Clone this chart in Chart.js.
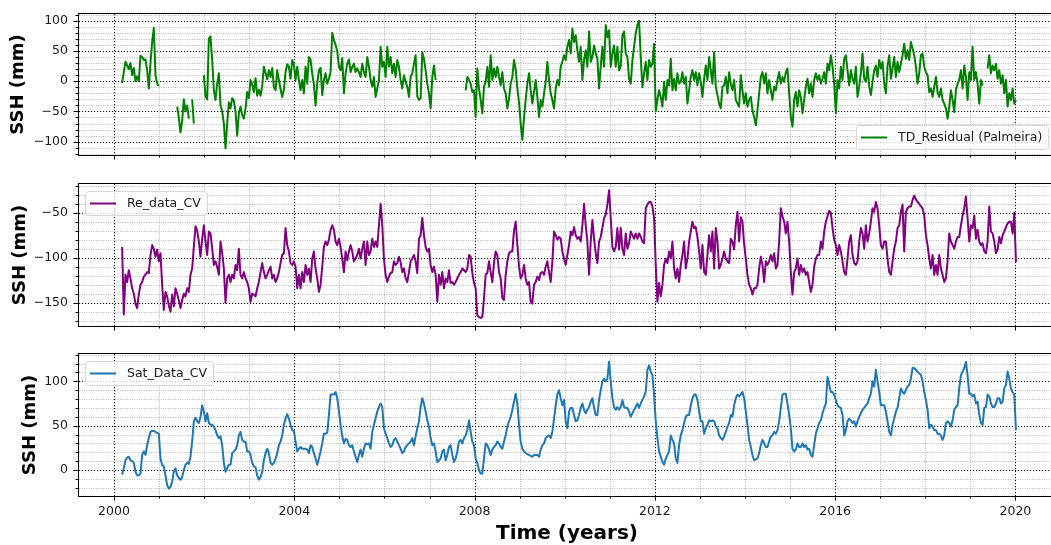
<!DOCTYPE html>
<html>
<head>
<meta charset="utf-8">
<script src="https://cdn.jsdelivr.net/npm/chart.js@4.4.0/dist/chart.umd.min.js"></script>
<style>
  html, body { margin: 0; padding: 0; background: #fff; overflow: hidden; }
  #wrap { position: relative; width: 1051px; height: 545px; overflow: hidden; background: #fff; }
  #wrap canvas { position: absolute; left: 0; }
</style>
</head>
<body>
<div id="wrap">
  <canvas id="panelTD" width="1052" height="185" style="top:-10px"></canvas>
  <canvas id="panelRe" width="1052" height="190" style="top:160px"></canvas>
  <canvas id="panelSat" width="1052" height="215" style="top:330px"></canvas>
</div>
<script>
// Regular sampling of the three SSH records (decimal years)
const sampleStart = 2000.18;
const sampleStep = 0.037;

// Tide-gauge residual, Palmeira (mm); null = no data
const tdResidual = [
  -3, 15, 32, 26, 20, 30, 10, 22, 0, 8,
  0, 42, 40, 35, 36, 18, -12, 30, 65, 88,
  10, -4, -8, null, null, null, null, null, null, null,
  null, null, null, -42, -60, -85, -65, -30, -50, -40,
  -62, null, -30, -70, null, null, null, null, null, 10,
  -25, -30, 70, 74, 35, -15, -31, -4, 13, -40,
  -50, -70, -111, -70, -35, -45, -28, -32, -50, -90,
  -53, -42, -56, -62, -45, -18, -28, 2, -5, -18,
  5, -24, -14, -24, -8, 24, 14, 3, 18, 7,
  22, -10, -15, 18, 2, -13, -26, -14, 15, 28,
  24, 4, 35, 28, 2, 24, 2, -15, 2, -20,
  24, -4, 40, 36, 12, -5, -40, -4, 18, 22,
  -23, 2, 13, -4, 4, 15, 80, 68, 60, 50,
  24, 18, 38, -20, 13, 29, 36, 15, 24, 29,
  15, 21, 15, 7, 29, 15, 7, 40, 24, 2,
  -9, 7, -26, -12, 2, 57, 24, 32, 7, 57,
  24, 40, 13, 29, 7, 35, 24, 2, -12, 10,
  -1, -9, -26, 7, 13, 29, 43, -25, -31, -28,
  48, 37, 18, -4, -20, -45, 7, 26, 2, null,
  null, null, null, null, null, null, null, null, null, null,
  null, null, null, null, null, null, -15, 7, 2, -4,
  -18, -15, -59, 21, -12, -31, -53, -9, -1, 24,
  -9, 43, 2, 21, 7, 24, 7, -7, 15, -12,
  -20, -45, -29, -4, 7, 35, 20, -12, -35, -70,
  -97, -60, -31, -4, 13, -15, -37, -18, 2, -26,
  -59, -31, -42, -20, -1, 32, 2, -20, -31, -45,
  -12, 2, -7, 24, 32, 43, 35, 57, 68, 46,
  87, 65, 76, 51, 32, 57, 2, 35, 51, 24,
  82, 32, 40, 59, 46, 37, -12, 24, 57, 24,
  93, 73, 84, 24, 46, 59, 24, 57, 18, 24,
  76, 82, 46, 40, 4, -4, 35, 57, 79, 93,
  100, 40, -10, 13, 32, 2, 35, 24, 29, 62,
  -50, -31, -15, -26, -42, -1, -31, 2, -7, 37,
  -15, 4, -15, 13, -4, -1, 15, -4, 7, -37,
  -15, 7, 18, 2, 15, -7, 13, -1, -26, 4,
  26, 2, 40, 18, -4, 48, -9, -23, -37, -45,
  -9, -7, 7, -20, 15, -4, -15, 2, -31, -37,
  -42, 10, -15, -37, -20, -42, -31, -26, -48, -59,
  -73, -48, -20, 7, 15, -4, 13, -20, 2, -15,
  -31, -9, -15, 2, 15, -4, 7, -1, 15, 21,
  -20, -59, -75, -31, -18, -42, -15, -26, -53, -31,
  -9, 4, -20, -4, -26, 2, 13, 2, 10, -4,
  4, 15, -4, 29, 18, 43, 24, -4, -53, 2,
  -12, 24, 2, 37, 43, 18, -7, 18, 4, -4,
  24, -26, -9, 13, 46, 4, -1, 24, -9, -23,
  -1, 18, 26, 7, 35, 21, 32, -4, -20, 26,
  43, 4, 21, 40, 7, 32, 15, 29, 43, 62,
  37, 51, 35, 65, 54, 43, 24, -4, 13, 43,
  46, 24, 15, 10, -18, -12, -26, -9, 7, -18,
  -26, -12, -31, -37, -45, -62, -42, -15, -31, -51,
  -15, -4, 2, 18, -12, 26, 7, -31, 15, 2,
  57, 2, 15, -4, -37, 2, -7, null, null, 21,
  43, 13, 26, 18, 29, 4, 18, -4, 10, -20,
  2, -42, -20, -31, -12, -37, -31
];

// Reanalysis SSH, Cape Verde (mm)
const reDataCV = [
  -88, -163, -119, -127, -114, -123, -134, -140, -151, -156,
  -141, -130, -127, -121, -119, -116, -117, -97, -86, -90,
  -99, -91, -104, -95, -130, -158, -138, -143, -153, -160,
  -141, -154, -134, -140, -147, -156, -147, -140, -143, -134,
  -138, -119, -112, -88, -65, -70, -82, -99, -79, -64,
  -82, -97, -71, -73, -90, -108, -104, -110, -119, -82,
  -95, -112, -150, -123, -119, -127, -119, -123, -108, -114,
  -90, -119, -123, -116, -123, -127, -134, -149, -140, -141,
  -143, -134, -127, -116, -106, -116, -123, -119, -114, -110,
  -123, -119, -127, -123, -116, -106, -97, -95, -67, -86,
  -93, -106, -108, -104, -110, -134, -119, -134, -116, -127,
  -108, -119, -112, -127, -101, -93, -112, -123, -138, -130,
  -110, -88, -82, -86, -80, -69, -64, -69, -82, -86,
  -79, -88, -101, -116, -93, -103, -93, -86, -93, -104,
  -101, -97, -90, -101, -90, -82, -108, -82, -97, -93,
  -79, -88, -82, -88, -64, -40, -64, -101, -119, -127,
  -121, -117, -116, -104, -108, -106, -99, -105, -116, -112,
  -123, -127, -116, -104, -101, -97, -104, -117, -79, -75,
  -56, -75, -88, -93, -90, -108, -116, -110, -119, -149,
  -119, -130, -116, -134, -123, -127, -114, -128, -127, -130,
  -127, -123, -119, -116, -112, -114, -116, -112, -97, -99,
  -117, -128, -134, -164, -166, -167, -166, -145, -119, -117,
  -104, -116, -127, -106, -93, -97, -116, -123, -145, -147,
  -119, -104, -95, -93, -93, -70, -60, -85, -110, -123,
  -119, -108, -123, -130, -127, -149, -151, -130, -127, -121,
  -125, -117, -116, -119, -110, -104, -116, -127, -104, -71,
  -75, -80, -77, -79, -93, -101, -108, -97, -86, -71,
  -75, -66, -75, -79, -77, -82, -64, -40, -64, -82,
  -119, -82, -58, -79, -95, -106, -82, -77, -67, -56,
  -52, -41, -25, -55, -88, -93, -88, -67, -91, -67,
  -90, -97, -73, -90, -84, -71, -75, -79, -73, -79,
  -73, -77, -82, -84, -45, -41, -38, -38, -43, -56,
  -108, -149, -128, -143, -130, -108, -101, -106, -93, -101,
  -82, -112, -123, -112, -127, -108, -97, -82, -112, -101,
  -82, -71, -60, -67, -66, -77, -93, -112, -86, -116,
  -119, -97, -75, -93, -71, -112, -67, -82, -112, -108,
  -101, -93, -101, -104, -106, -79, -82, -91, -64, -49,
  -82, -55, -60, -85, -101, -119, -130, -134, -141, -134,
  -134, -130, -112, -99, -108, -127, -104, -108, -104, -97,
  -104, -95, -112, -108, -82, -45, -54, -60, -73, -60,
  -82, -116, -141, -116, -112, -101, -119, -108, -116, -112,
  -119, -116, -127, -138, -130, -110, -101, -97, -97, -82,
  -90, -71, -60, -54, -48, -50, -67, -80, -86, -97,
  -86, -93, -104, -116, -119, -101, -82, -75, -97, -106,
  -108, -104, -82, -67, -73, -90, -64, -82, -73, -60,
  -45, -49, -38, -45, -64, -86, -90, -82, -82, -101,
  -116, -119, -104, -90, -82, -67, -64, -49, -41, -93,
  -49, -45, -43, -43, -36, -31, -35, -38, -40, -43,
  -45, -53, -75, -86, -101, -112, -97, -119, -108, -119,
  -97, -112, -119, -127, -123, -104, -73, -82, -86, -90,
  -82, -77, -77, -64, -53, -45, -32, -56, -82, -64,
  -67, -53, -79, -69, -82, -86, -84, -93, -95, -82,
  -43, -71, -73, -82, -95, -91, -77, -84, -75, -71,
  -66, -62, -60, -60, -73, -50, -105
];

// Satellite altimetry SSH, Cape Verde (mm)
const satDataCV = [
  -5, 2, 11, 14, 15, 11, 10, 8, -2, -6,
  -6, -4, 17, 21, 17, 28, 36, 43, 44, 44,
  43, 42, 41, 13, 6, 4, -6, -17, -21, -19,
  -13, -2, 2, -6, -9, -11, -8, 0, 6, 8,
  7, 15, 32, 55, 59, 55, 53, 60, 73, 66,
  55, 64, 53, 51, 51, 49, 45, 39, 36, 38,
  28, 8, -2, 2, 6, 6, 19, 21, 23, 28,
  39, 43, 34, 32, 32, 21, 21, 17, 8, 4,
  3, -6, -11, -8, -2, 11, 19, 24, 19, 8,
  6, 8, 13, 19, 28, 32, 39, 51, 58, 63,
  58, 51, 45, 44, 32, 21, 24, 26, 24, 24,
  24, 23, 19, 28, 26, 19, 13, 6, 13, 21,
  30, 41, 41, 42, 62, 85, 85, 85, 88, 81,
  66, 51, 38, 30, 35, 34, 28, 26, 28, 21,
  15, 9, 17, 23, 15, 24, 30, 29, 30, 24,
  43, 51, 58, 66, 71, 75, 71, 47, 41, 36,
  30, 26, 28, 34, 36, 32, 28, 24, 19, 21,
  26, 28, 30, 32, 36, 28, 38, 47, 55, 71,
  81, 75, 66, 56, 49, 36, 28, 30, 21, 9,
  11, 13, 21, 23, 11, 17, 26, 28, 17, 9,
  13, 21, 32, 34, 30, 36, 39, 45, 56, 43,
  32, 28, 13, 8, 0, -4, -4, 13, 30, 28,
  23, 17, 23, 26, 28, 32, 30, 26, 24, 32,
  39, 49, 55, 60, 68, 77, 86, 75, 51, 32,
  24, 21, 19, 18, 17, 16, 15, 17, 17, 17,
  15, 23, 28, 30, 36, 38, 39, 36, 43, 58,
  73, 85, 90, 81, 73, 79, 55, 47, 66, 70,
  70, 62, 55, 56, 62, 70, 75, 68, 64, 68,
  71, 77, 81, 70, 62, 62, 79, 90, 100, 103,
  100, 103, 122, 100, 81, 71, 68, 71, 68, 71,
  79, 71, 70, 70, 66, 60, 64, 68, 71, 75,
  70, 75, 79, 83, 88, 113, 118, 111, 107, 85,
  55, 36, 21, 15, 9, 6, 13, 17, 21, 39,
  34, 30, 13, 8, 28, 39, 45, 53, 60, 62,
  62, 73, 81, 85, 85, 79, 66, 55, 55, 41,
  47, 51, 56, 55, 56, 55, 49, 47, 39, 36,
  34, 38, 43, 49, 53, 62, 60, 73, 81, 85,
  83, 85, 88, 81, 66, 51, 34, 26, 17, 11,
  12, 13, 19, 28, 34, 30, 26, 26, 32, 38,
  39, 43, 41, 45, 55, 70, 85, 86, 86, 75,
  62, 47, 24, 21, 23, 30, 26, 26, 30, 26,
  28, 23, 24, 17, 15, 28, 41, 47, 53, 56,
  64, 70, 75, 105, 96, 88, 88, 85, 79, 73,
  71, 70, 62, 39, 45, 55, 58, 56, 53, 55,
  49, 55, 60, 64, 68, 70, 73, 75, 81, 86,
  100, 94, 113, 100, 88, 73, 73, 73, 66, 55,
  43, 39, 51, 58, 66, 70, 81, 92, 88, 86,
  90, 94, 96, 103, 115, 115, 113, 111, 109, 107,
  100, 88, 79, 68, 47, 51, 49, 45, 45, 41,
  41, 39, 34, 39, 53, 55, 53, 49, 56, 68,
  71, 73, 92, 107, 111, 115, 122, 107, 86, 86,
  83, 85, 75, 77, 62, 53, 51, 70, 71, 85,
  83, 75, 71, 71, 75, 81, 81, 75, 77, 92,
  96, 111, 103, 92, 88, 85, 45
];

// Axis ticks and labels
const yearTicks = [2000, 2004, 2008, 2012, 2016, 2020];
const ticksTD = [-100, -50, 0, 50, 100];
const ticksRe = [-150, -100, -50];
const ticksSat = [0, 50, 100];
const seriesNames = ['TD_Residual (Palmeira)', 'Re_data_CV', 'Sat_Data_CV'];
const yTitle = 'SSH (mm)';
const xTitle = 'Time (years)';

const X_MIN = 1999.223, X_MAX = 2020.812;
const TICK_FONT = { family: 'DejaVu Sans', size: 12.5 };
const TEXT_COLOR = '#1a1a1a';

function toPoints(values) {
  return values.map((v, i) => ({ x: sampleStart + i * sampleStep, y: v }));
}

function fmtNum(v) {
  return v < 0 ? '\u2212' + Math.abs(v) : String(v);
}

// Draws matplotlib-like grid, spines, tick marks, legend box and axis titles
const panelDecor = {
  id: 'panelDecor',
  beforeDatasetsDraw(chart, args, o) {
    const { ctx } = chart;
    const a = {
      left: Math.round(chart.chartArea.left), right: Math.round(chart.chartArea.right),
      top: Math.round(chart.chartArea.top), bottom: Math.round(chart.chartArea.bottom)
    };
    const x = chart.scales.x, y = chart.scales.y;
    const px = v => Math.round(x.getPixelForValue(v)) + 0.5;
    const py = v => Math.round(y.getPixelForValue(v)) + 0.5;
    ctx.save();
    ctx.beginPath();
    ctx.rect(a.left, a.top, a.right - a.left, a.bottom - a.top);
    ctx.clip();
    // minor grid
    ctx.strokeStyle = 'rgba(140,140,140,0.6)';
    ctx.lineWidth = 0.9;
    ctx.setLineDash([1.2, 1.2]);
    for (let yr = Math.ceil(x.min); yr <= x.max; yr++) {
      if (yearTicks.includes(yr)) continue;
      ctx.beginPath(); ctx.moveTo(px(yr), a.top); ctx.lineTo(px(yr), a.bottom); ctx.stroke();
    }
    for (let v = Math.ceil(y.min / 10) * 10; v <= y.max; v += 10) {
      if (o.yTicks.includes(v)) continue;
      ctx.beginPath(); ctx.moveTo(a.left, py(v)); ctx.lineTo(a.right, py(v)); ctx.stroke();
    }
    // major grid
    ctx.strokeStyle = '#111';
    ctx.lineWidth = 1;
    ctx.setLineDash([1.2, 1.8]);
    yearTicks.forEach(yr => {
      ctx.beginPath(); ctx.moveTo(px(yr), a.top); ctx.lineTo(px(yr), a.bottom); ctx.stroke();
    });
    o.yTicks.forEach(v => {
      ctx.beginPath(); ctx.moveTo(a.left, py(v)); ctx.lineTo(a.right, py(v)); ctx.stroke();
    });
    ctx.restore();
  },
  afterDatasetsDraw(chart, args, o) {
    const { ctx } = chart;
    const a = {
      left: Math.round(chart.chartArea.left), right: Math.round(chart.chartArea.right),
      top: Math.round(chart.chartArea.top), bottom: Math.round(chart.chartArea.bottom)
    };
    const x = chart.scales.x, y = chart.scales.y;
    const px = v => Math.round(x.getPixelForValue(v)) + 0.5;
    const py = v => Math.round(y.getPixelForValue(v)) + 0.5;
    ctx.save();

    // legend
    ctx.font = '12.5px "DejaVu Sans"';
    const tw = ctx.measureText(o.label).width;
    const bw = Math.round(42 + tw + 6), bh = 24;
    let bx, by;
    if (o.legendCorner === 'lowerRight') { bx = a.right - 4 - bw; by = a.bottom - 6 - bh; }
    else { bx = a.left + 6; by = a.top + 7; }
    ctx.beginPath();
    ctx.roundRect(bx + 0.5, by + 0.5, bw, bh, 3);
    ctx.fillStyle = 'rgba(255,255,255,0.8)';
    ctx.fill();
    ctx.strokeStyle = '#d6d6d6';
    ctx.lineWidth = 1;
    ctx.stroke();
    ctx.beginPath();
    ctx.moveTo(bx + 5, by + bh / 2 + 0.5);
    ctx.lineTo(bx + 31, by + bh / 2 + 0.5);
    ctx.strokeStyle = o.color;
    ctx.lineWidth = 2;
    ctx.stroke();
    ctx.fillStyle = TEXT_COLOR;
    ctx.textAlign = 'left';
    ctx.textBaseline = 'middle';
    ctx.fillText(o.label, bx + 42, by + bh / 2 + 1);

    // spines
    ctx.strokeStyle = '#000';
    ctx.lineWidth = 1;
    ctx.strokeRect(a.left - 0.5, a.top - 0.5, a.right - a.left + 1, a.bottom - a.top + 1);

    // tick marks (outward)
    ctx.beginPath();
    for (let yr = Math.ceil(x.min); yr <= x.max; yr++) {
      const len = yearTicks.includes(yr) ? 4.5 : 2.5;
      ctx.moveTo(px(yr), a.bottom); ctx.lineTo(px(yr), a.bottom + len);
    }
    for (let v = Math.ceil(y.min / 10) * 10; v <= y.max; v += 10) {
      const len = o.yTicks.includes(v) ? 4.5 : 2.5;
      ctx.moveTo(a.left - 1, py(v)); ctx.lineTo(a.left - 1 - len, py(v));
    }
    ctx.stroke();

    // y title
    ctx.save();
    ctx.translate(o.yTitleX, (a.top + a.bottom) / 2);
    ctx.rotate(-Math.PI / 2);
    ctx.font = 'bold 18px "DejaVu Sans"';
    ctx.fillStyle = '#000';
    ctx.textAlign = 'center';
    ctx.textBaseline = 'alphabetic';
    ctx.fillText(yTitle, 0, 0);
    ctx.restore();

    // x title
    if (o.xTitleY) {
      ctx.font = 'bold 20px "DejaVu Sans"';
      ctx.fillStyle = '#000';
      ctx.textAlign = 'center';
      ctx.textBaseline = 'alphabetic';
      ctx.fillText(xTitle, 567, o.xTitleY);
    }
    ctx.restore();
  }
};

function makePanel(id, values, color, label, yMin, yMax, yTicks, cfg) {
  return new Chart(document.getElementById(id), {
    type: 'line',
    data: {
      datasets: [{
        label: label,
        data: toPoints(values),
        borderColor: color,
        borderWidth: 2,
        borderJoinStyle: 'round',
        pointRadius: 0,
        tension: 0,
        spanGaps: false,
        fill: false
      }]
    },
    options: {
      responsive: false,
      animation: false,
      devicePixelRatio: 1,
      events: [],
      layout: { padding: { top: cfg.padTop, right: 0, bottom: cfg.padBottom, left: 0 } },
      plugins: {
        legend: { display: false },
        tooltip: { enabled: false },
        panelDecor: {
          yTicks: yTicks, label: label, color: color,
          legendCorner: cfg.legendCorner, yTitleX: cfg.yTitleX, xTitleY: cfg.xTitleY
        }
      },
      scales: {
        x: {
          type: 'linear', min: X_MIN, max: X_MAX,
          display: cfg.showX,
          afterBuildTicks: s => { s.ticks = yearTicks.map(v => ({ value: v })); },
          afterFit: s => { if (cfg.xHeight != null) s.height = cfg.xHeight; },
          grid: { display: false, drawTicks: false },
          border: { display: false },
          ticks: {
            padding: 8, color: TEXT_COLOR, font: TICK_FONT,
            maxRotation: 0, autoSkip: false,
            callback: v => String(v)
          }
        },
        y: {
          type: 'linear', min: yMin, max: yMax,
          afterBuildTicks: s => { s.ticks = yTicks.map(v => ({ value: v })); },
          afterFit: s => { s.width = 79; },
          grid: { display: false, drawTicks: false },
          border: { display: false },
          ticks: {
            padding: 11, color: TEXT_COLOR, font: TICK_FONT,
            callback: v => fmtNum(v)
          }
        }
      }
    },
    plugins: [panelDecor]
  });
}

// canvas tops: -10, 160, 330 -> plot areas 14..155, 184..326, 354..496
makePanel('panelTD', tdResidual, '#008000', seriesNames[0], -122.0, 111.1, ticksTD,
  { padTop: 24, padBottom: 20, showX: false, legendCorner: 'lowerRight', yTitleX: 23 });
makePanel('panelRe', reDataCV, '#800080', seriesNames[1], -175.9, -18.1, ticksRe,
  { padTop: 24, padBottom: 24, showX: false, legendCorner: 'upperLeft', yTitleX: 24.5 });
makePanel('panelSat', satDataCV, '#1f77b4', seriesNames[2], -29.3, 130.8, ticksSat,
  { padTop: 24, padBottom: 0, showX: true, xHeight: 49, legendCorner: 'upperLeft', yTitleX: 35, xTitleY: 208.5 });
</script>
</body>
</html>
